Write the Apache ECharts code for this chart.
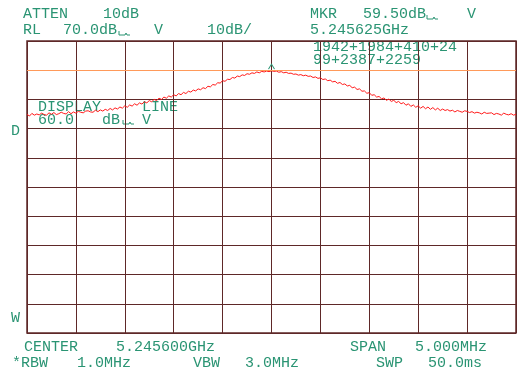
<!DOCTYPE html>
<html>
<head>
<meta charset="utf-8">
<script src="https://cdn.jsdelivr.net/npm/echarts@6/dist/echarts.min.js"></script>
<style>
  html, body { margin: 0; padding: 0; background: #fff; }
  #chart { width: 519px; height: 378px; }
</style>
</head>
<body>
<div id="chart"></div>
<script>
// Spectrum trace, dB (201 sweep points across 10 divisions)
const traceDb = [
  44.9, 44.3, 45.2, 44.6, 45.0, 44.7, 45.3, 44.8, 44.6, 45.4,
  44.9, 45.5, 44.8, 45.1, 45.6, 45.2, 45.0, 45.8, 45.1, 45.7,
  45.3, 45.9, 45.6, 45.4, 46.0, 46.1, 45.7, 45.6, 46.3, 45.8,
  46.4, 46.0, 46.6, 46.2, 46.9, 46.4, 47.1, 46.7, 47.4, 47.0,
  47.8, 47.3, 48.1, 47.7, 48.5, 48.0, 48.8, 48.4, 49.2, 48.8,
  49.6, 49.2, 50.0, 49.6, 50.4, 50.0, 50.8, 50.4, 51.2, 50.8,
  51.6, 51.2, 52.0, 51.6, 52.4, 52.0, 52.8, 52.5, 53.2, 52.9,
  53.6, 53.3, 54.0, 53.7, 54.5, 54.3, 55.1, 54.9, 55.7, 55.6,
  56.4, 56.2, 56.9, 56.8, 57.5, 57.3, 58.0, 57.8, 58.4, 58.2,
  58.8, 58.6, 59.1, 58.9, 59.4, 59.1, 59.6, 59.4, 59.7, 59.5,
  59.8, 59.6, 59.7, 59.3, 59.5, 59.1, 59.3, 58.9, 59.0, 58.6,
  58.7, 58.3, 58.5, 58.1, 58.3, 57.9, 58.0, 57.5, 57.7, 57.2,
  57.4, 56.8, 57.0, 56.4, 56.6, 56.0, 56.2, 55.5, 55.8, 55.1,
  55.3, 54.6, 54.8, 54.0, 54.2, 53.4, 53.6, 52.8, 52.9, 52.1,
  52.3, 51.4, 51.6, 50.8, 51.0, 50.2, 50.5, 49.7, 50.1, 49.3,
  49.7, 48.9, 49.3, 48.5, 48.9, 48.0, 48.5, 47.6, 48.1, 47.3,
  47.8, 47.0, 47.6, 46.8, 47.4, 46.6, 47.2, 46.4, 47.0, 46.2,
  46.7, 46.2, 46.5, 46.0, 46.3, 45.7, 46.2, 45.9, 45.6, 46.1,
  45.9, 45.5, 45.8, 45.3, 45.6, 45.4, 45.0, 45.6, 45.2, 45.3,
  45.4, 44.8, 45.2, 45.0, 44.6, 45.3, 44.9, 44.7, 45.1, 44.6,
  44.9
];

const refLevel = 70;      // RL 70.0 dB
const dbPerDiv = 10;
const divisions = 10;
const displayLine = 60;   // DISPLAY LINE 60.0 dB
const markerDiv = 5;      // marker at center
const markerDb = 59.5;

// screen annotations: [text, x, capTop]
const textLines = [
  ["ATTEN", 23, 10], ["10dB", 103, 10],
  ["RL", 23, 26], ["70.0dB", 63, 26], ["V", 154, 26], ["10dB/", 207, 26],
  ["MKR", 310, 10], ["59.50dB", 363, 10], ["V", 467, 10],
  ["5.245625GHz", 310, 26],
  ["1942+1984+410+24", 313, 42.5],
  ["99+2387+2259", 313, 55.5],
  ["DISPLAY", 38, 102.5], ["LINE", 142, 102.5],
  ["60.0", 38, 115.5], ["dB", 102, 115.5], ["V", 142, 115.5],
  ["D", 11, 127], ["W", 11, 314],
  ["CENTER", 24, 343], ["5.245600GHz", 116, 343],
  ["SPAN", 350, 343], ["5.000MHz", 415, 343],
  ["*RBW", 12, 359], ["1.0MHz", 77, 359], ["VBW", 193, 359], ["3.0MHz", 245, 359],
  ["SWP", 376, 359], ["50.0ms", 428, 359]
];
// small "space" glyphs after dB units: [x, y]
const unitGlyphs = [[119, 31], [427, 15], [123, 120]];

const textColor = "#2a9473";
const gridColor = "#5e2828";
const font = '15px "Liberation Mono", "Courier New", monospace';

const step = divisions / (traceDb.length - 1);
const traceData = traceDb.map((v, i) => [i * step, v]);

const graphics = textLines.map(([t, x, y]) => ({
  type: "text",
  x: x,
  y: y - 3,
  silent: true,
  style: { text: t, font: font, fill: textColor, textVerticalAlign: "top", verticalAlign: "top" },
}));
unitGlyphs.forEach(([x, y]) => {
  graphics.push({
    type: "polyline",
    silent: true,
    shape: { points: [[x, y], [x, y + 4], [x + 6, y + 4], [x + 7, y + 2], [x + 8, y + 4], [x + 11, y + 4]] },
    style: { stroke: textColor, lineWidth: 1, fill: null },
  });
});

const chart = echarts.init(document.getElementById("chart"));
chart.setOption({
  animation: false,
  backgroundColor: "#ffffff",
  grid: {
    left: 27, right: 3, top: 41, bottom: 45,
    show: true, borderColor: gridColor, borderWidth: 1.5,
  },
  xAxis: {
    type: "value",
    min: 0, max: divisions, interval: 1,
    axisLabel: { show: false }, axisTick: { show: false },
    axisLine: { show: false },
    splitLine: { lineStyle: { color: gridColor, width: 1 } },
  },
  yAxis: {
    type: "value",
    min: refLevel - dbPerDiv * divisions, max: refLevel, interval: dbPerDiv,
    axisLabel: { show: false }, axisTick: { show: false },
    axisLine: { show: false },
    splitLine: { lineStyle: { color: gridColor, width: 1 } },
  },
  series: [
    {
      type: "line",
      data: traceData,
      symbol: "none",
      lineStyle: { color: "#ff1a1a", width: 1 },
      markLine: {
        silent: true,
        symbol: "none",
        label: { show: false },
        lineStyle: { color: "#ff9a5a", width: 1, type: "solid" },
        data: [{ yAxis: displayLine }],
      },
      markPoint: {
        silent: true,
        symbol: "path://M0,6 L3,0 L6,6",
        symbolSize: [6, 5],
        symbolOffset: [0, -5],
        itemStyle: { color: "rgba(0,0,0,0)", borderColor: textColor, borderWidth: 1 },
        label: { show: false },
        data: [{ coord: [markerDiv, markerDb] }],
      },
    },
  ],
  graphic: graphics,
});
</script>
</body>
</html>
